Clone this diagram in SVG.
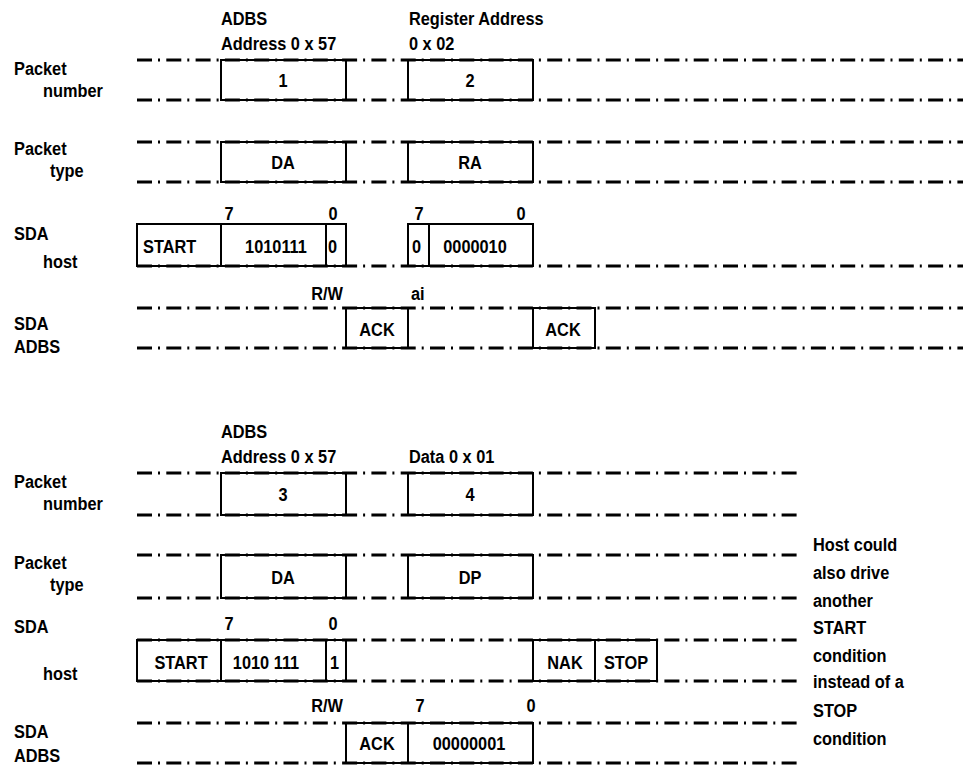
<svg xmlns="http://www.w3.org/2000/svg" width="963" height="766" viewBox="0 0 963 766">
<style>
text{font-family:"Liberation Sans",Arial,sans-serif;font-weight:bold;font-size:19px;fill:#000}
.m{text-anchor:middle}
.e{text-anchor:end}
.dl{stroke:#000;stroke-width:3;stroke-dasharray:15 6 2 6.3;fill:none}
.bx{stroke:#000;stroke-width:2;fill:none}
</style>
<rect width="963" height="766" fill="#fff"/>
<g id="connectors">
<line class="dl" x1="137" y1="60" x2="963" y2="60"/>
<line class="dl" x1="137" y1="100" x2="963" y2="100"/>
<line class="dl" x1="137" y1="142" x2="963" y2="142"/>
<line class="dl" x1="137" y1="182" x2="963" y2="182"/>
<line class="dl" x1="137" y1="266" x2="963" y2="266"/>
<line class="dl" x1="137" y1="308" x2="963" y2="308"/>
<line class="dl" x1="137" y1="348" x2="963" y2="348"/>
<line class="dl" x1="137" y1="473" x2="798" y2="473"/>
<line class="dl" x1="137" y1="515" x2="798" y2="515"/>
<line class="dl" x1="137" y1="555" x2="798" y2="555"/>
<line class="dl" x1="137" y1="598" x2="798" y2="598"/>
<line class="dl" x1="137" y1="640" x2="798" y2="640"/>
<line class="dl" x1="137" y1="681" x2="798" y2="681"/>
<line class="dl" x1="137" y1="723" x2="798" y2="723"/>
<line class="dl" x1="137" y1="763" x2="798" y2="763"/>
</g>
<g id="labels">
<text transform="translate(221 25) scale(.86 1)">ADBS</text>
<text transform="translate(221 50) scale(.86 1)">Address 0 x 57</text>
<text transform="translate(409 25) scale(.86 1)">Register Address</text>
<text transform="translate(409 50) scale(.86 1)">0 x 02</text>
<text transform="translate(14 75) scale(.86 1)">Packet</text>
<text transform="translate(43 97) scale(.86 1)">number</text>
<text transform="translate(14 155) scale(.86 1)">Packet</text>
<text transform="translate(50 177) scale(.86 1)">type</text>
<text class="m" transform="translate(229 220) scale(.86 1)">7</text>
<text class="m" transform="translate(333 220) scale(.86 1)">0</text>
<text class="m" transform="translate(419 220) scale(.86 1)">7</text>
<text class="m" transform="translate(521 220) scale(.86 1)">0</text>
<text transform="translate(14 240) scale(.86 1)">SDA</text>
<text transform="translate(43 268) scale(.86 1)">host</text>
<text class="e" transform="translate(343 300) scale(.86 1)">R/W</text>
<text transform="translate(411 300) scale(.86 1)">ai</text>
<text transform="translate(14 330) scale(.86 1)">SDA</text>
<text transform="translate(14 353) scale(.86 1)">ADBS</text>
<text transform="translate(221 438) scale(.86 1)">ADBS</text>
<text transform="translate(221 463) scale(.86 1)">Address 0 x 57</text>
<text transform="translate(409 463) scale(.86 1)">Data 0 x 01</text>
<text transform="translate(14 488) scale(.86 1)">Packet</text>
<text transform="translate(43 510) scale(.86 1)">number</text>
<text transform="translate(14 569) scale(.86 1)">Packet</text>
<text transform="translate(50 591) scale(.86 1)">type</text>
<text class="m" transform="translate(229 630) scale(.86 1)">7</text>
<text class="m" transform="translate(333 630) scale(.86 1)">0</text>
<text transform="translate(14 633) scale(.86 1)">SDA</text>
<text transform="translate(43 680) scale(.86 1)">host</text>
<text class="e" transform="translate(343 712) scale(.86 1)">R/W</text>
<text class="m" transform="translate(420 712) scale(.86 1)">7</text>
<text class="m" transform="translate(531 712) scale(.86 1)">0</text>
<text transform="translate(14 738) scale(.86 1)">SDA</text>
<text transform="translate(14 762) scale(.86 1)">ADBS</text>
<text transform="translate(813 551) scale(.86 1)">Host could</text>
<text transform="translate(813 579) scale(.86 1)">also drive</text>
<text transform="translate(813 607) scale(.86 1)">another</text>
<text transform="translate(813 634) scale(.86 1)">START</text>
<text transform="translate(813 662) scale(.86 1)">condition</text>
<text transform="translate(813 688) scale(.86 1)">instead of a</text>
<text transform="translate(813 717) scale(.86 1)">STOP</text>
<text transform="translate(813 745) scale(.86 1)">condition</text>
</g>
<g id="pkt1"><rect class="bx" x="221" y="60" width="125" height="40"/><text class="m" transform="translate(283 87) scale(.86 1)">1</text></g>
<g id="pkt2"><rect class="bx" x="408" y="60" width="125" height="40"/><text class="m" transform="translate(470 87) scale(.86 1)">2</text></g>
<g id="type-da1"><rect class="bx" x="221" y="142" width="125" height="40"/><text class="m" transform="translate(283 169) scale(.86 1)">DA</text></g>
<g id="type-ra"><rect class="bx" x="408" y="142" width="125" height="40"/><text class="m" transform="translate(470 169) scale(.86 1)">RA</text></g>
<g id="host-start1"><rect class="bx" x="137" y="224" width="84" height="42"/><text transform="translate(143 253) scale(.86 1)">START</text></g>
<g id="host-addr1"><rect class="bx" x="221" y="224" width="105" height="42"/><text class="m" transform="translate(276 253) scale(.86 1)">1010111</text></g>
<g id="host-rw1"><rect class="bx" x="326" y="224" width="20" height="42"/><text transform="translate(328 253) scale(.86 1)">0</text></g>
<g id="host-ai"><rect class="bx" x="408" y="224" width="21" height="42"/><text transform="translate(412 253) scale(.86 1)">0</text></g>
<g id="host-reg"><rect class="bx" x="429" y="224" width="104" height="42"/><text class="m" transform="translate(475 253) scale(.86 1)">0000010</text></g>
<g id="adbs-ack1"><rect class="bx" x="346" y="308" width="62" height="40"/><text class="m" transform="translate(377 336) scale(.86 1)">ACK</text></g>
<g id="adbs-ack2"><rect class="bx" x="533" y="308" width="62" height="40"/><text class="m" transform="translate(563 336) scale(.86 1)">ACK</text></g>
<g id="pkt3"><rect class="bx" x="221" y="473" width="125" height="42"/><text class="m" transform="translate(283 501) scale(.86 1)">3</text></g>
<g id="pkt4"><rect class="bx" x="408" y="473" width="125" height="42"/><text class="m" transform="translate(470 501) scale(.86 1)">4</text></g>
<g id="type-da2"><rect class="bx" x="221" y="555" width="125" height="43"/><text class="m" transform="translate(283 584) scale(.86 1)">DA</text></g>
<g id="type-dp"><rect class="bx" x="408" y="555" width="125" height="43"/><text class="m" transform="translate(470 584) scale(.86 1)">DP</text></g>
<g id="host-start2"><rect class="bx" x="137" y="640" width="84" height="41"/><text class="m" transform="translate(181 669) scale(.86 1)">START</text></g>
<g id="host-addr2"><rect class="bx" x="221" y="640" width="105" height="41"/><text class="m" transform="translate(266 669) scale(.86 1)">1010 111</text></g>
<g id="host-rw2"><rect class="bx" x="326" y="640" width="20" height="41"/><text transform="translate(330 669) scale(.86 1)">1</text></g>
<g id="host-nak"><rect class="bx" x="533" y="640" width="62" height="41"/><text class="m" transform="translate(565 669) scale(.86 1)">NAK</text></g>
<g id="host-stop"><rect class="bx" x="595" y="640" width="62" height="41"/><text class="m" transform="translate(626 669) scale(.86 1)">STOP</text></g>
<g id="adbs-ack3"><rect class="bx" x="346" y="723" width="62" height="40"/><text class="m" transform="translate(377 750) scale(.86 1)">ACK</text></g>
<g id="adbs-data"><rect class="bx" x="408" y="723" width="125" height="40"/><text class="m" transform="translate(469 750) scale(.86 1)">00000001</text></g>
</svg>
